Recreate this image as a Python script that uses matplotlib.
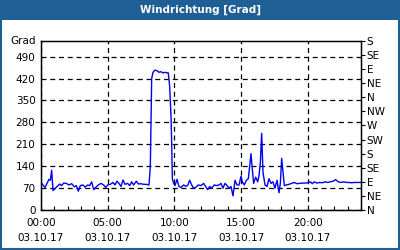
import matplotlib

matplotlib.use("Agg")
import matplotlib.pyplot as plt
from matplotlib.patches import Rectangle

FRAME = "#1f5f96"
LINE = "#0000f0"

plt.rcParams.update({
    "font.family": "DejaVu Sans",
    "font.size": 7.5,
})

# hours since 00:00 on 03.10.17 and wind direction in degrees
hours = [
    0.0, 0.15, 0.3, 0.45, 0.6, 0.7, 0.8, 0.9, 1.05, 1.2, 1.4, 1.55, 1.7, 1.9,
    2.1, 2.3, 2.5, 2.65, 2.8, 2.95, 3.15, 3.3, 3.5, 3.65, 3.8, 3.95, 4.1, 4.3,
    4.5, 4.7, 4.85, 5.0, 5.2, 5.4, 5.55, 5.7, 5.85, 6.0, 6.15, 6.3, 6.5, 6.65,
    6.8, 6.95, 7.15, 7.3, 7.5, 7.7, 7.9, 8.1, 8.2, 8.25, 8.3, 8.4, 8.55, 8.7,
    8.85, 9.0, 9.15, 9.3, 9.5, 9.55, 9.65, 9.75, 9.8, 9.85, 9.95, 10.05, 10.2,
    10.35, 10.5, 10.7, 10.85, 11.0, 11.15, 11.3, 11.45, 11.6, 11.8, 12.0, 12.2,
    12.35, 12.5, 12.65, 12.8, 13.0, 13.15, 13.35, 13.5, 13.65, 13.8, 13.95,
    14.1, 14.25, 14.4, 14.55, 14.7, 14.85, 15.0, 15.1, 15.25, 15.4, 15.55,
    15.65, 15.75, 15.85, 15.95, 16.1, 16.25, 16.35, 16.45, 16.55, 16.65, 16.8,
    16.95, 17.1, 17.25, 17.4, 17.55, 17.7, 17.85, 17.95, 18.05, 18.15, 18.25,
    18.4, 18.6, 18.8, 19.0, 19.2, 19.4, 19.6, 19.8, 20.0, 20.2, 20.35, 20.5,
    20.7, 20.9, 21.1, 21.3, 21.5, 21.7, 21.9, 22.1, 22.3, 22.5, 22.7, 22.9,
    23.1, 23.3, 23.5, 23.7, 24.0,
]
degrees = [
    87, 80, 72, 85, 98, 95, 127, 62, 68, 75, 83, 78, 86, 85,
    80, 84, 74, 78, 60, 78, 80, 73, 80, 78, 90, 65, 72, 80,
    85, 80, 72, 80, 82, 88, 80, 92, 85, 75, 96, 82, 85, 78,
    90, 80, 92, 83, 84, 82, 82, 80, 140, 290, 420, 440, 447, 445,
    440, 442, 438, 440, 438, 438, 395, 300, 215, 100, 85, 78, 98,
    75, 72, 80, 76, 78, 95, 80, 70, 72, 80, 78, 85,
    75, 65, 75, 70, 80, 78, 80, 85, 70, 85, 78,
    70, 75, 45, 95, 80, 80, 108, 90, 80, 95, 100,
    140, 180, 130, 85, 105, 90, 110, 150, 245, 120, 80,
    75, 100, 85, 90, 70, 95, 55, 85, 165, 120, 78,
    80, 82, 85, 88, 84, 85, 86, 86, 87, 90, 84, 90,
    86, 88, 87, 90, 88, 90, 92, 97, 90, 88, 90, 88,
    88, 87, 88, 88, 88,
]

left_ticks = [0, 70, 140, 210, 280, 350, 420, 490]
compass_ticks = [0, 45, 90, 135, 180, 225, 270, 315, 360, 405, 450, 495, 540]
compass_labels = ["N", "NE", "E", "SE", "S", "SW", "W", "NW",
                  "N", "NE", "E", "SE", "S"]
time_ticks = [0, 5, 10, 15, 20]
time_labels = ["00:00\n03.10.17", "05:00\n03.10.17", "10:00\n03.10.17",
               "15:00\n03.10.17", "20:00\n03.10.17"]

fig = plt.figure(figsize=(4.0, 2.5), dpi=100)
fig.patch.set_facecolor("white")

# frame + title bar
fig.add_artist(Rectangle((0, 0.92), 1, 0.08, transform=fig.transFigure,
                         fc=FRAME, ec="none"))
fig.add_artist(Rectangle((0.0025, 0.004), 0.995, 0.992, transform=fig.transFigure,
                         fc="none", ec=FRAME, lw=1.5))
fig.text(0.5, 0.96, "Windrichtung [Grad]", color="white", fontweight="bold",
         ha="center", va="center", fontsize=7.5)

ax = fig.add_axes([0.1025, 0.16, 0.8, 0.676])
ax.plot(hours, degrees, color=LINE, lw=1.0)
ax.set_xlim(0, 24)
ax.set_ylim(0, 540)
ax.set_yticks(left_ticks)
ax.set_xticks(time_ticks)
ax.set_xticklabels(time_labels, linespacing=1.55)
ax.set_xticks(range(0, 25), minor=True)
ax.grid(True, color="black", ls=(0, (4, 3)), lw=0.9)
ax.tick_params(axis="y", which="both", length=0, pad=4)
ax.tick_params(axis="x", which="major", length=0, pad=6)
ax.tick_params(axis="x", which="minor", direction="in", length=3, width=0.8)
for s in ax.spines.values():
    s.set_linewidth(1.0)

ax2 = ax.twinx()
ax2.set_ylim(0, 540)
ax2.set_yticks(compass_ticks)
ax2.set_yticklabels(compass_labels)
ax2.tick_params(axis="y", length=3, width=0.8, pad=1)

ax.text(-0.015, 1.0, "Grad", transform=ax.transAxes, ha="right", va="center")

fig.savefig("out.png", dpi=100)
